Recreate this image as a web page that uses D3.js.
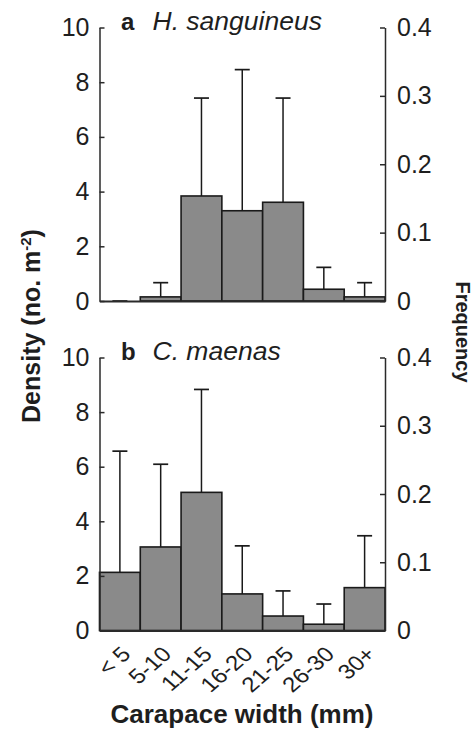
<!DOCTYPE html>
<html>
<head>
<meta charset="utf-8">
<script src="https://cdn.jsdelivr.net/npm/d3@7"></script>
<style>
  html, body { margin: 0; padding: 0; background: #fff; }
  svg { display: block; }
  text { font-family: "Liberation Sans", Arial, Helvetica, sans-serif; fill: #1e1e1e; }
</style>
</head>
<body>
<script>
// ---- data ----
const categories = ["< 5", "5-10", "11-15", "16-20", "21-25", "26-30", "30+"];
const densityA = [0, 0.15, 3.84, 3.30, 3.61, 0.43, 0.15];
const sdA      = [0, 0.52, 3.58, 5.16, 3.81, 0.80, 0.52];
const densityB = [2.13, 3.06, 5.06, 1.34, 0.53, 0.23, 1.57];
const sdB      = [4.44, 3.03, 3.77, 1.76, 0.92, 0.74, 1.90];
const densityTicks = [0, 2, 4, 6, 8, 10];
const freqTicks = [0, 0.1, 0.2, 0.3, 0.4];
const panels = [
  { letter: "a", species: "H. sanguineus", values: densityA, sd: sdA },
  { letter: "b", species: "C. maenas", values: densityB, sd: sdB }
];

// ---- layout ----
const W = 473, H = 732;
const x0 = 99.5, x1 = 385;
const panelY = [[301, 27.5], [630.5, 357.5]];
const axisColor = "#2a2a2a";

const svg = d3.select("body").append("svg").attr("width", W).attr("height", H);

const x = d3.scaleBand().domain(categories).range([x0, x1]).padding(0);

panels.forEach((p, i) => {
  const y = d3.scaleLinear().domain([0, 10]).range(panelY[i]);
  const yf = d3.scaleLinear().domain([0, 0.4]).range(panelY[i]);
  const g = svg.append("g");

  // bars
  g.selectAll("rect.bar").data(p.values).join("rect")
    .attr("class", "bar")
    .attr("x", (d, j) => x(categories[j]))
    .attr("width", x.bandwidth())
    .attr("y", d => y(d))
    .attr("height", d => y(0) - y(d))
    .attr("fill", "#8a8a8a")
    .attr("stroke", "#1a1a1a")
    .attr("stroke-width", 1.6);

  // error bars (upper only)
  const capW = 15;
  p.values.forEach((v, j) => {
    const cx = x(categories[j]) + x.bandwidth() / 2;
    const top = y(v + p.sd[j]);
    g.append("line").attr("x1", cx).attr("x2", cx)
      .attr("y1", y(v)).attr("y2", top)
      .attr("stroke", "#1a1a1a").attr("stroke-width", 1.5);
    g.append("line").attr("x1", cx - capW / 2).attr("x2", cx + capW / 2)
      .attr("y1", top).attr("y2", top)
      .attr("stroke", "#1a1a1a").attr("stroke-width", 1.7);
  });

  // left axis
  const la = g.append("g").attr("transform", `translate(${x0},0)`)
    .call(d3.axisLeft(y).tickValues(densityTicks).tickSizeInner(-5).tickSizeOuter(0).tickPadding(10)
      .tickFormat(d3.format("d")));
  // right axis
  const ra = g.append("g").attr("transform", `translate(${x1},0)`)
    .call(d3.axisRight(yf).tickValues(freqTicks).tickSizeInner(-5).tickSizeOuter(0).tickPadding(12)
      .tickFormat(d => d === 0 ? "0" : d3.format(".1f")(d)));
  // bottom axis
  const ba = g.append("g").attr("transform", `translate(0,${y(0)})`)
    .call(d3.axisBottom(x).tickSize(0).tickFormat(i === 1 ? (d => d) : () => ""));

  [la, ra, ba].forEach(a => {
    a.selectAll("path, line").attr("stroke", axisColor).attr("stroke-width", 1.5);
    a.selectAll("text").style("font-size", "25px").attr("fill", "#1e1e1e");
  });
  ba.selectAll("path").attr("stroke-width", 1.8);

  if (i === 1) {
    ba.selectAll(".tick text")
      .style("font-size", "21px")
      .attr("text-anchor", "end")
      .attr("dy", null).attr("y", null)
      .attr("transform", "translate(12,25) scale(1.15,1) rotate(-45)");
  }

  // panel title
  const ty = panelY[i][1] + 2;
  g.append("text").attr("x", 121).attr("y", ty)
    .style("font-size", "24px").style("font-weight", "bold").text(p.letter);
  g.append("text").attr("x", 152.5).attr("y", ty)
    .style("font-size", "26.5px").style("font-style", "italic").text(p.species);
});

// axis titles
const dens = svg.append("text")
  .attr("transform", "translate(40,326) rotate(-90)")
  .attr("text-anchor", "middle")
  .style("font-size", "25px").style("font-weight", "bold");
dens.append("tspan").text("Density (no. m");
dens.append("tspan").attr("dy", -9).style("font-size", "15px").text("-2");
dens.append("tspan").attr("dy", 9).text(")");

svg.append("text")
  .attr("transform", "translate(456,332) rotate(90)")
  .attr("text-anchor", "middle")
  .style("font-size", "20px").style("font-weight", "bold")
  .text("Frequency");

svg.append("text")
  .attr("x", 242).attr("y", 723)
  .attr("text-anchor", "middle")
  .style("font-size", "26px").style("font-weight", "bold")
  .text("Carapace width (mm)");
</script>
</body>
</html>
